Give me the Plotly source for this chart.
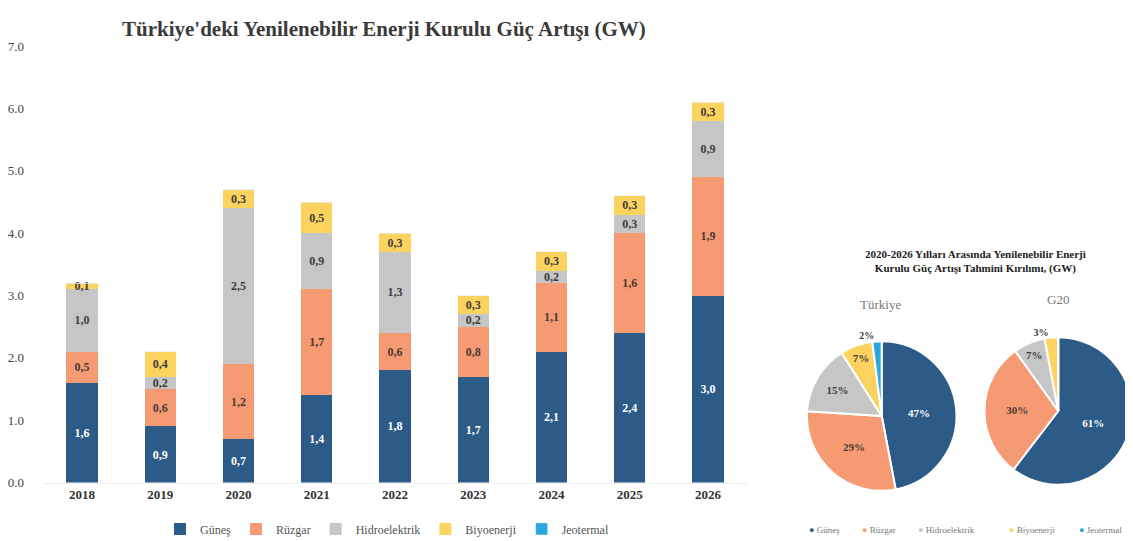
import plotly.graph_objects as go

years = ["2018", "2019", "2020", "2021", "2022", "2023", "2024", "2025", "2026"]
gunes = [1.6, 0.9, 0.7, 1.4, 1.8, 1.7, 2.1, 2.4, 3.0]
ruzgar = [0.5, 0.6, 1.2, 1.7, 0.6, 0.8, 1.1, 1.6, 1.9]
hidro = [1.0, 0.2, 2.5, 0.9, 1.3, 0.2, 0.2, 0.3, 0.9]
biyo = [0.1, 0.4, 0.3, 0.5, 0.3, 0.3, 0.3, 0.3, 0.3]
y_ticks = [0, 1, 2, 3, 4, 5, 6, 7]

pie_labels = ["Güneş", "Rüzgar", "Hidroelektrik", "Biyoenerji", "Jeotermal"]
turkiye_share = [47, 29, 15, 7, 2]
g20_share = [61, 30, 7, 3, 0]

colors = ["#2d5b88", "#f59a72", "#c6c6c6", "#fbd35e", "#2aa7dd"]
SERIF = "Liberation Serif"
W, H = 1133, 541
# observed placement of the figure in the photographed page
OX, OY, PH = 8, 17, 522

def fmt(v):
    return f"{v:.1f}".replace(".", ",")

def px(x):
    return (x - OX) / W

def py(y):
    return 1 - (y - OY) / PH

fig = go.Figure()
series = [("Güneş", gunes, "white"), ("Rüzgar", ruzgar, "#4a3a33"),
          ("Hidroelektrik", hidro, "#3d3d3d"), ("Biyoenerji", biyo, "#3d3d3d")]
for i, (name, vals, tc) in enumerate(series):
    fig.add_trace(go.Bar(
        x=years, y=vals, name=name, marker=dict(color=colors[i], line=dict(width=0)),
        text=[fmt(v) for v in vals], textposition="inside", insidetextanchor="middle",
        textangle=0, constraintext="none",
        textfont=dict(family=SERIF, size=12, color=tc, weight="bold"),
        cliponaxis=False,
    ))
fig.add_trace(go.Bar(x=years, y=[0] * len(years), name="Jeotermal",
                     marker=dict(color=colors[4]), hoverinfo="skip"))

pie_text_colors = ["white", "#4a3a33", "#3d3d3d", "#3d3d3d", "#3d3d3d"]
fig.add_trace(go.Pie(
    labels=pie_labels, values=turkiye_share, sort=False, direction="clockwise",
    rotation=0, domain=dict(x=[px(806), px(956)], y=[py(490), py(340)]),
    marker=dict(colors=colors, line=dict(color="white", width=2)),
    texttemplate="%{value}%", textposition=["inside", "inside", "inside", "inside", "outside"],
    textfont=dict(family=SERIF, size=11, color=pie_text_colors, weight="bold"),
    outsidetextfont=dict(family=SERIF, size=10, color="#3d3d3d"),
    insidetextorientation="horizontal", showlegend=False,
))
fig.add_trace(go.Pie(
    labels=pie_labels, values=g20_share, sort=False, direction="clockwise",
    rotation=0, domain=dict(x=[px(984), px(1132)], y=[py(484), py(336)]),
    marker=dict(colors=colors, line=dict(color="white", width=2)),
    texttemplate=["%{value}%", "%{value}%", "%{value}%", "%{value}%", ""],
    textposition=["inside", "inside", "inside", "outside", "none"],
    textfont=dict(family=SERIF, size=11, color=pie_text_colors, weight="bold"),
    outsidetextfont=dict(family=SERIF, size=10, color="#3d3d3d"),
    insidetextorientation="horizontal", showlegend=False,
))

annotations = [
    dict(text="<b>Türkiye'deki Yenilenebilir Enerji Kurulu Güç Artışı (GW)</b>",
         x=px(382), xanchor="center", y=1, yanchor="top", xref="paper", yref="paper",
         showarrow=False, font=dict(family=SERIF, size=21, color="#3a3a3a")),
    dict(text="<b>2020-2026 Yılları Arasında Yenilenebilir Enerji<br>Kurulu Güç Artışı Tahmini Kırılımı, (GW)</b>",
         x=px(975), xanchor="center", y=py(262), yanchor="middle", xref="paper", yref="paper",
         showarrow=False, font=dict(family=SERIF, size=11, color="#222")),
    dict(text="Türkiye", x=px(880), xanchor="center", y=py(304), yanchor="middle", xref="paper",
         yref="paper", showarrow=False, font=dict(family=SERIF, size=13, color="#777")),
    dict(text="G20", x=px(1058), xanchor="center", y=py(299), yanchor="middle", xref="paper",
         yref="paper", showarrow=False, font=dict(family=SERIF, size=13, color="#777")),
]
legend2_x = [806, 859, 915, 1007, 1077]
for lbl, c, lx in zip(pie_labels, colors, legend2_x):
    annotations.append(dict(
        text=f"<span style='color:{c}'>●</span> {lbl}", x=px(lx), y=py(528),
        xanchor="left", yanchor="middle", xref="paper", yref="paper", showarrow=False,
        font=dict(family=SERIF, size=9, color="#777")))

fig.update_layout(
    width=W, height=H, barmode="stack", bargap=0.6,
    margin=dict(l=0, r=0, t=0, b=0),
    paper_bgcolor="white", plot_bgcolor="white",
    font=dict(family=SERIF, color="#444"),
    xaxis=dict(domain=[px(40), px(746)], type="category", showgrid=False, showline=True,
               linecolor="#ececec", ticks="",
               tickfont=dict(family=SERIF, size=13, color="#333", weight="bold")),
    yaxis=dict(domain=[py(481), py(48)], range=[0, 7], tickvals=y_ticks,
               ticktext=[f"{v:.1f}" for v in y_ticks], showgrid=False, zeroline=False,
               showline=False, tickfont=dict(family=SERIF, size=13, color="#444"),
               ticklabelstandoff=18),
    legend=dict(orientation="h", x=px(385), xanchor="center", y=py(527), yanchor="middle",
                font=dict(family=SERIF, size=12, color="#555"), itemwidth=30,
                traceorder="normal", bgcolor="rgba(0,0,0,0)"),
    annotations=annotations,
)

fig.write_html("out.html")
